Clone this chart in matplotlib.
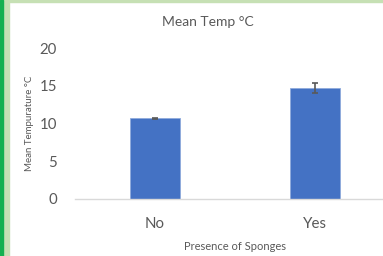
import matplotlib
matplotlib.use("Agg")
import matplotlib.pyplot as plt
from matplotlib.patches import Rectangle

# data
categories = ["No", "Yes"]
mean_temp = [10.7, 14.7]
temp_err = [0.08, 0.7]

plt.rcParams['font.family'] = ['Lato', 'DejaVu Sans']
grey = '#595959'

W, H = 383, 256
fig = plt.figure(figsize=(W / 100, H / 100), dpi=100)
fig.patch.set_facecolor('white')

left, right, top, bottom = 75, 395, 48, 199
ax = fig.add_axes([left / W, 1 - bottom / H, (right - left) / W, (bottom - top) / H])

ax.bar(range(len(categories)), mean_temp, width=0.31, color='#4472C4',
       edgecolor='#8FAADC', linewidth=0.6,
       yerr=temp_err, error_kw=dict(ecolor=grey, elinewidth=1.2, capsize=2, capthick=1.2))

ax.set_xlim(-0.5, 1.5)
ax.set_ylim(0, 20)
ax.set_yticks([0, 5, 10, 15, 20])
ax.set_xticks(range(len(categories)))
ax.set_xticklabels(categories)

for s in ['top', 'right', 'left']:
    ax.spines[s].set_visible(False)
ax.spines['bottom'].set_color('#D9D9D9')
ax.spines['bottom'].set_linewidth(1)
ax.tick_params(axis='both', length=0, labelsize=10.8, labelcolor=grey)
ax.tick_params(axis='y', pad=13)
ax.tick_params(axis='x', pad=13)

ax.set_ylabel("Mean Tempurature °C", fontsize=7, color=grey, labelpad=4)
ax.set_xlabel("Presence of Sponges", fontsize=8, color=grey, labelpad=7)
fig.text(208 / W, 1 - 22 / H, "Mean Temp °C", ha='center', va='center', fontsize=10, color=grey)

# green frame pieces visible at the top and left edges
fig.patches.append(Rectangle((0, 1 - 2 / H), 1, 2 / H, transform=fig.transFigure,
                             color='#C6E0B4', zorder=0))
fig.patches.append(Rectangle((0, 0), 9 / W, 1, transform=fig.transFigure,
                             color='#C6E0B4', zorder=0))
fig.patches.append(Rectangle((0, 0), 3 / W, 1, transform=fig.transFigure,
                             color='#14B050', zorder=0))

fig.savefig("out.png", dpi=100)
